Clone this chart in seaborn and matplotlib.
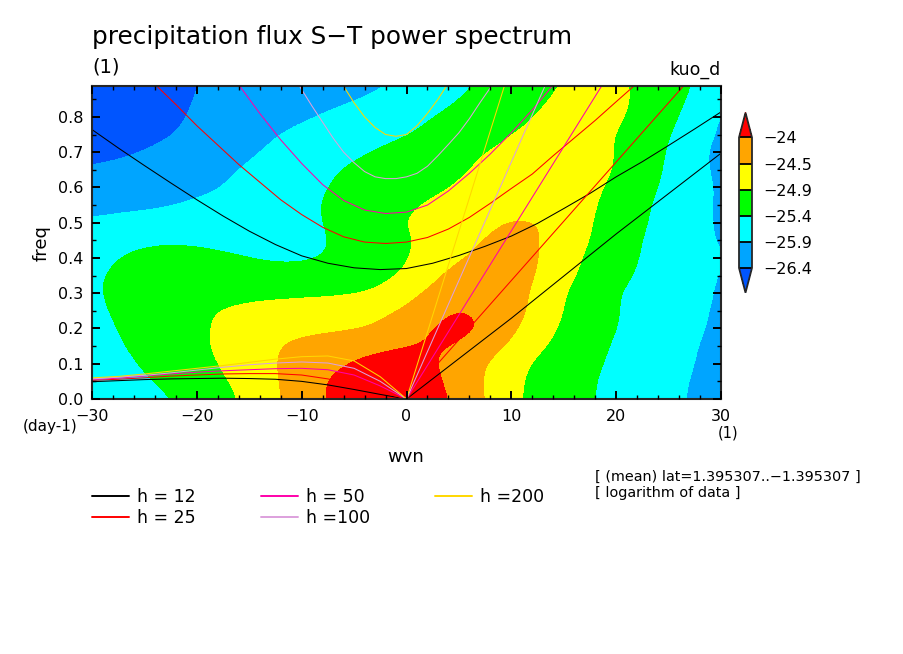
"""Precipitation flux space-time power spectrum with shallow water dispersion curves."""

import matplotlib
matplotlib.use("Agg")
import matplotlib.pyplot as plt
import numpy as np
import seaborn as sns
from matplotlib.colors import BoundaryNorm, ListedColormap
from matplotlib.lines import Line2D
from matplotlib.ticker import MultipleLocator

wvn = [-30, -27.5, -25, -22.5, -20, -17.5, -15, -12.5, -10, -7.5, -5, -2.5, 0,
       2.5, 5, 7.5, 10, 12.5, 15, 17.5, 20, 22.5, 25, 27.5, 30]
freq = [0, .05, .1, .15, .2, .25, .3, .35, .4, .45, .5, .55, .6, .65, .7, .75, .8, .85, .9]

power = [
    [-25.75, -25.65, -25.55, -25.42, -25.22, -25.02, -24.80, -24.57, -24.27, -23.95, -23.80, -23.60, -23.40, -23.80, -24.12, -24.52, -24.81, -25.02, -25.19, -25.37, -25.52, -25.66, -25.80, -25.95, -26.05],
    [-25.70, -25.60, -25.45, -25.29, -25.11, -24.94, -24.74, -24.54, -24.26, -23.97, -23.75, -23.55, -23.50, -23.87, -24.21, -24.53, -24.79, -25.01, -25.18, -25.36, -25.51, -25.65, -25.79, -25.93, -26.05],
    [-25.62, -25.52, -25.35, -25.19, -25.03, -24.86, -24.69, -24.51, -24.32, -24.13, -23.95, -23.80, -23.72, -23.96, -24.22, -24.49, -24.74, -24.96, -25.14, -25.32, -25.47, -25.62, -25.76, -25.90, -26.03],
    [-25.58, -25.44, -25.28, -25.12, -24.97, -24.82, -24.70, -24.51, -24.41, -24.30, -24.20, -24.10, -24.00, -23.93, -24.01, -24.30, -24.58, -24.82, -25.04, -25.26, -25.45, -25.59, -25.73, -25.88, -26.02],
    [-25.53, -25.39, -25.24, -25.10, -24.94, -24.86, -24.80, -24.62, -24.59, -24.58, -24.56, -24.49, -24.28, -23.93, -23.85, -24.02, -24.42, -24.70, -24.96, -25.18, -25.40, -25.55, -25.69, -25.84, -25.98],
    [-25.48, -25.35, -25.22, -25.08, -24.95, -24.87, -24.83, -24.78, -24.72, -24.66, -24.60, -24.54, -24.45, -24.20, -23.90, -24.12, -24.34, -24.60, -24.91, -25.15, -25.38, -25.54, -25.68, -25.83, -25.96],
    [-25.46, -25.32, -25.18, -25.10, -25.05, -25.00, -24.97, -24.97, -24.97, -24.97, -24.94, -24.86, -24.62, -24.40, -24.30, -24.28, -24.35, -24.56, -24.87, -25.13, -25.38, -25.53, -25.65, -25.78, -25.96],
    [-25.47, -25.32, -25.20, -25.15, -25.12, -25.12, -25.13, -25.14, -25.14, -25.12, -25.07, -24.98, -24.87, -24.54, -24.37, -24.30, -24.33, -24.50, -24.77, -25.03, -25.27, -25.47, -25.62, -25.76, -25.94],
    [-25.55, -25.39, -25.28, -25.22, -25.24, -25.30, -25.40, -25.50, -25.50, -25.37, -25.22, -25.08, -24.93, -24.72, -24.52, -24.40, -24.33, -24.47, -24.71, -24.97, -25.20, -25.43, -25.60, -25.75, -25.89],
    [-25.65, -25.55, -25.47, -25.45, -25.48, -25.55, -25.60, -25.62, -25.60, -25.40, -25.23, -25.08, -24.94, -24.79, -24.65, -24.47, -24.37, -24.47, -24.68, -24.89, -25.15, -25.41, -25.58, -25.75, -25.96],
    [-25.83, -25.78, -25.75, -25.72, -25.70, -25.70, -25.68, -25.65, -25.55, -25.35, -25.20, -25.03, -24.88, -24.79, -24.70, -24.60, -24.44, -24.46, -24.68, -24.86, -25.10, -25.36, -25.55, -25.75, -25.98],
    [-26.05, -26.00, -25.97, -25.92, -25.85, -25.80, -25.72, -25.62, -25.50, -25.36, -25.20, -25.05, -24.95, -24.84, -24.76, -24.70, -24.68, -24.68, -24.72, -24.83, -25.04, -25.33, -25.54, -25.76, -25.98],
    [-26.20, -26.15, -26.10, -26.03, -25.97, -25.90, -25.78, -25.65, -25.52, -25.40, -25.28, -25.18, -25.07, -24.97, -24.87, -24.80, -24.76, -24.73, -24.75, -24.82, -24.95, -25.25, -25.50, -25.73, -25.98],
    [-26.36, -26.30, -26.22, -26.13, -26.04, -25.96, -25.85, -25.72, -25.60, -25.45, -25.33, -25.22, -25.13, -25.03, -24.93, -24.85, -24.80, -24.77, -24.78, -24.82, -24.88, -25.15, -25.47, -25.75, -26.02],
    [-26.52, -26.47, -26.39, -26.28, -26.17, -26.06, -25.95, -25.83, -25.72, -25.58, -25.47, -25.35, -25.23, -25.12, -25.00, -24.88, -24.83, -24.80, -24.80, -24.83, -24.88, -25.13, -25.43, -25.75, -26.05],
    [-26.65, -26.60, -26.52, -26.42, -26.30, -26.16, -26.03, -25.91, -25.80, -25.72, -25.62, -25.52, -25.43, -25.30, -25.17, -25.02, -24.88, -24.83, -24.80, -24.83, -24.88, -25.08, -25.36, -25.68, -25.98],
    [-26.72, -26.68, -26.60, -26.47, -26.35, -26.25, -26.15, -26.05, -25.95, -25.85, -25.75, -25.65, -25.52, -25.40, -25.27, -25.14, -25.00, -24.87, -24.78, -24.78, -24.83, -25.01, -25.27, -25.59, -25.98],
    [-26.75, -26.70, -26.62, -26.50, -26.38, -26.30, -26.22, -26.15, -26.08, -26.00, -25.93, -25.83, -25.68, -25.55, -25.40, -25.25, -25.10, -24.96, -24.82, -24.76, -24.80, -24.97, -25.22, -25.47, -25.75],
    [-26.78, -26.72, -26.64, -26.52, -26.40, -26.33, -26.25, -26.19, -26.14, -26.08, -26.02, -25.96, -25.85, -25.68, -25.50, -25.35, -25.20, -25.03, -24.88, -24.80, -24.82, -24.98, -25.18, -25.42, -25.70],
]

levels = [-26.4, -25.9, -25.4, -24.9, -24.5, -24.0]
level_labels = ["\u221226.4", "\u221225.9", "\u221225.4", "\u221224.9", "\u221224.5", "\u221224"]
band_colors = ["#0055ff", "#00a5ff", "#00ffff", "#00ff00", "#ffff00", "#ffa500", "#ff0000"]

# gravity wave branches
ig12_k = [-30, -27.5, -25, -22.5, -20, -17.5, -15, -12.5, -10, -7.5, -5, -2.5, 0, 2.5, 5, 7.5, 10, 12.5, 15, 17.5, 20, 22.5, 25, 27.5, 30]
ig12_f = [.764, .712, .662, .613, .565, .519, .476, .438, .406, .385, .372, .367, .37, .385, .407, .433, .462, .498, .54, .583, .63, .673, .719, .766, .814]
ig25_k = [-23.8, -22, -20, -18, -16, -14, -12, -10, -8, -6, -4, -2, 0, 2, 4, 6, 8, 10, 12, 14, 16, 18, 20, 21.6]
ig25_f = [.887, .835, .775, .72, .665, .615, .565, .523, .487, .46, .445, .441, .445, .458, .482, .515, .555, .597, .638, .69, .74, .79, .843, .885]
ig50_k = [-15.9, -14, -12, -10, -8, -6, -4, -2, 0, 2, 4, 6, 8, 10, 12, 13.9]
ig50_f = [.887, .81, .735, .668, .608, .563, .536, .526, .53, .55, .59, .64, .695, .755, .82, .887]
ig100_k = [-10.2, -9, -8, -7, -6, -5, -4, -3, -2, -1, 0, 1, 2, 3, 4, 5, 6, 7, 8.1]
ig100_f = [.887, .83, .785, .74, .70, .67, .645, .63, .625, .625, .63, .64, .66, .69, .722, .755, .795, .84, .887]
ig200_k = [-6, -5, -4, -3, -2, -1, 0, 1, 2, 3, 3.8]
ig200_f = [.887, .84, .80, .77, .75, .745, .75, .775, .81, .85, .887]

# low frequency branches on the westward side
ro_k = [-30, -27.5, -25, -22.5, -20, -17.5, -15, -12.5, -10, -7.5, -5, -2.5, 0]
ro12_f = [.049, .052, .055, .057, .058, .059, .058, .056, .05, .04, .027, .013, 0]
ro25_f = [.053, .056, .06, .065, .068, .071, .072, .072, .068, .057, .04, .02, 0]
ro50_f = [.055, .059, .065, .071, .076, .08, .083, .086, .087, .083, .068, .037, 0]
ro100_f = [.057, .062, .067, .074, .082, .09, .097, .102, .105, .102, .087, .05, 0]
ro200_f = [.06, .064, .071, .079, .087, .095, .104, .113, .12, .122, .108, .063, 0]

# eastward straight branches
ke12_k = [0, 10, 20, 30]
ke12_f = [0, .229, .468, .697]
ke25_k = [0, 26.4]
ke25_f = [0, .887]
ke50_k = [0, 18.6]
ke50_f = [0, .887]
ke100_k = [0, 13.2]
ke100_f = [0, .887]
ke200_k = [0, 9.33]
ke200_f = [0, .887]

heights = ["h = 12", "h = 25", "h = 50", "h =100", "h =200"]
line_colors = ["#000000", "#ff0000", "#ff00aa", "#dda0dd", "#ffd700"]
curves = [
    [(ig12_k, ig12_f), (ro_k, ro12_f), (ke12_k, ke12_f)],
    [(ig25_k, ig25_f), (ro_k, ro25_f), (ke25_k, ke25_f)],
    [(ig50_k, ig50_f), (ro_k, ro50_f), (ke50_k, ke50_f)],
    [(ig100_k, ig100_f), (ro_k, ro100_f), (ke100_k, ke100_f)],
    [(ig200_k, ig200_f), (ro_k, ro200_f), (ke200_k, ke200_f)],
]

W, H = 904, 654


def fig_x(px):
    return px / W


def fig_y(py):
    return 1 - py / H


def main():
    sns.set_theme(style="ticks")
    plt.rcParams.update({
        "font.family": ["DejaVu Sans"],
        "font.size": 11,
        "text.color": "black",
        "axes.labelcolor": "black",
        "xtick.color": "black",
        "ytick.color": "black",
        "axes.linewidth": 1.5,
    })

    fig = plt.figure(figsize=(W / 100, H / 100), dpi=100, facecolor="white")
    ax = fig.add_axes([fig_x(92), fig_y(399), (721 - 92) / W, (399 - 85.5) / H])
    ax.set_axisbelow(False)

    cmap = ListedColormap(band_colors[1:-1])
    cmap.set_under(band_colors[0])
    cmap.set_over(band_colors[-1])
    norm = BoundaryNorm(levels, cmap.N)
    half_k = (wvn[1] - wvn[0]) / 2
    half_f = (freq[1] - freq[0]) / 2
    im = ax.imshow(
        np.array(power),
        origin="lower",
        aspect="auto",
        cmap=cmap,
        norm=norm,
        interpolation="bicubic",
        interpolation_stage="data",
        extent=(wvn[0] - half_k, wvn[-1] + half_k, freq[0] - half_f, freq[-1] + half_f),
    )

    for color, branches in zip(line_colors, curves):
        for k, f in branches:
            sns.lineplot(x=k, y=f, color=color, lw=0.75, sort=False, estimator=None, legend=False, ax=ax)

    ax.set_xlim(-30, 30)
    ax.set_ylim(0, 0.889)
    ax.xaxis.set_major_locator(MultipleLocator(10))
    ax.xaxis.set_minor_locator(MultipleLocator(2))
    ax.yaxis.set_major_locator(MultipleLocator(0.1))
    ax.yaxis.set_minor_locator(MultipleLocator(0.05))
    ax.tick_params(which="major", direction="in", length=5.8, width=1.4, top=True, right=True, labelsize=11.5)
    ax.tick_params(which="minor", direction="in", length=3, width=1.0, top=True, right=True)
    ax.tick_params(axis="x", which="major", pad=7)
    ax.tick_params(axis="y", which="major", pad=6)
    ax.set_xlabel("")
    ax.set_ylabel("")
    ax.set_yticks([0, .1, .2, .3, .4, .5, .6, .7, .8], labels=["0.0", "0.1", "0.2", "0.3", "0.4", "0.5", "0.6", "0.7", "0.8"])

    fig.text(fig_x(92), fig_y(37), "precipitation flux S\u2212T power spectrum", fontsize=17.8, va="center")
    fig.text(fig_x(92), fig_y(67), "(1)", fontsize=14, va="center")
    fig.text(fig_x(721), fig_y(70), "kuo_d", fontsize=12.5, va="center", ha="right")
    fig.text(fig_x(42), fig_y(243), "freq", fontsize=13, rotation=90, va="center", ha="center")
    fig.text(fig_x(406), fig_y(457), "wvn", fontsize=13, va="center", ha="center")
    fig.text(fig_x(23), fig_y(427), "(day-1)", fontsize=11, va="center")
    fig.text(fig_x(738), fig_y(433), "(1)", fontsize=10.5, va="center", ha="right")
    fig.text(fig_x(595), fig_y(477), "[ (mean) lat=1.395307..\u22121.395307 ]", fontsize=10.4, va="center")
    fig.text(fig_x(595), fig_y(493), "[ logarithm of data ]", fontsize=10.4, va="center")

    cax = fig.add_axes([fig_x(739), fig_y(292.7), (752 - 739) / W, (292.7 - 112.7) / H])
    cb = fig.colorbar(im, cax=cax, extend="both", extendfrac=0.19, drawedges=True)
    cb.set_ticks(levels, labels=level_labels)
    cb.ax.minorticks_off()
    cb.ax.tick_params(length=0, labelsize=11.5, pad=8)
    cb.outline.set_linewidth(1.3)
    cb.dividers.set_linewidth(1.3)
    cb.dividers.set_color("black")

    handles = [Line2D([], [], color=c, lw=1.4) for c in line_colors]
    fig.legend(
        handles, heights,
        loc="upper left",
        bbox_to_anchor=(fig_x(92), fig_y(488)),
        ncol=3,
        frameon=False,
        fontsize=12.5,
        borderpad=0,
        borderaxespad=0,
        handlelength=2.13,
        handletextpad=0.46,
        columnspacing=3.75,
        labelspacing=0.15,
    )

    fig.savefig("out.png", dpi=100, facecolor="white")
    plt.close(fig)


if __name__ == "__main__":
    main()
